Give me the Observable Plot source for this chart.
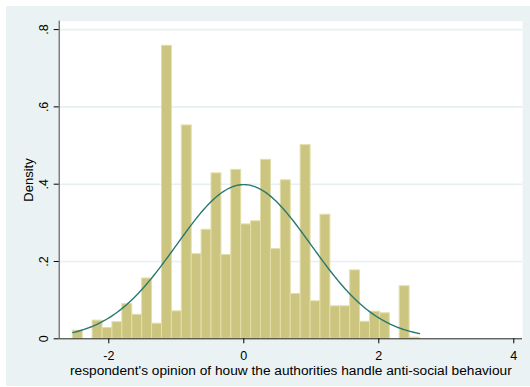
<!DOCTYPE html>
<html>
<head>
<meta charset="utf-8">
<script src="https://cdn.jsdelivr.net/npm/d3@7"></script>
<script src="https://cdn.jsdelivr.net/npm/@observablehq/plot@0.6"></script>
<style>
  html, body { margin: 0; padding: 0; background: #ffffff; }
  #chart { position: absolute; left: 6px; top: 6px; }
  #chart svg { display: block; }
</style>
</head>
<body>
<div id="chart"></div>
<script>
// Histogram of the standardised opinion score (density scale)
const binStart = -2.533;   // left edge of the first bin
const binWidth = 0.14675;  // common bin width
const densities = [
  0.021, 0.000, 0.047, 0.028, 0.043, 0.090, 0.062, 0.156, 0.039, 0.758,
  0.071, 0.552, 0.219, 0.282, 0.428, 0.217, 0.437, 0.296, 0.304, 0.463,
  0.232, 0.410, 0.116, 0.501, 0.097, 0.321, 0.084, 0.084, 0.177, 0.044,
  0.070, 0.066, 0.000, 0.136, 0.003
];

// Overlaid normal density
const normalMean = 0;
const normalSd = 1;

// Axis ticks and labels
const xTicks = [-2, 0, 2, 4];
const xTickLabels = ["-2", "0", "2", "4"];
const yTicks = [0, 0.2, 0.4, 0.6, 0.8];
const yTickLabels = ["0", ".2", ".4", ".6", ".8"];
const gridValues = [0.2, 0.4, 0.6, 0.8];
const xTitle = "respondent's opinion of houw the authorities handle anti-social behaviour";
const yTitle = "Density";

const bins = densities.map((d, i) => ({
  x1: binStart + i * binWidth,
  x2: binStart + (i + 1) * binWidth,
  density: d
}));

const dataMin = binStart;
const dataMax = binStart + densities.length * binWidth;
const normalPdf = x => Math.exp(-0.5 * ((x - normalMean) / normalSd) ** 2) / (normalSd * Math.sqrt(2 * Math.PI));
const curve = d3.range(0, 201).map(i => {
  const x = dataMin + (dataMax - dataMin) * i / 200;
  return {x, y: normalPdf(x)};
});

const xDomain = [-2.735, 4.129];
const yDomain = [0, 0.8217];
const font = "'Liberation Sans', Arial, sans-serif";

const chart = Plot.plot({
  width: 524,
  height: 380,
  marginLeft: 52.7,
  marginRight: 8,
  marginTop: 14.7,
  marginBottom: 47.7,
  style: {background: "#eaf2f3", fontFamily: font, fontSize: "12.5px", color: "#000"},
  x: {domain: xDomain, label: null},
  y: {domain: yDomain, label: null},
  marks: [
    Plot.frame({fill: "#ffffff", stroke: null}),
    Plot.ruleY(gridValues, {stroke: "#e6eff1", strokeWidth: 1.6}),
    Plot.rectY(bins, {
      x1: "x1", x2: "x2", y1: 0, y2: "density",
      fill: "#cbc57f", stroke: "#e2deaa", strokeWidth: 1
    }),
    Plot.line(curve, {x: "x", y: "y", stroke: "#2a7871", strokeWidth: 1.4}),
    Plot.ruleY([yDomain[0]], {stroke: "#222", strokeWidth: 1}),
    Plot.ruleX([xDomain[0]], {stroke: "#444", strokeWidth: 1}),
    Plot.axisX({
      ticks: xTicks,
      tickFormat: d => xTickLabels[xTicks.indexOf(d)],
      tickSize: 5, tickPadding: 7.5, fontSize: 12.5,
      label: null
    }),
    Plot.axisY({
      ticks: yTicks,
      tickFormat: () => "",
      tickSize: 5,
      label: null
    }),
    Plot.text(yTicks, {
      y: d => d,
      text: d => yTickLabels[yTicks.indexOf(d)],
      frameAnchor: "left", dx: -11.5, rotate: -90,
      textAnchor: "middle", lineAnchor: "bottom", fontSize: 12.5, fill: "#000"
    }),
    Plot.text([yTitle], {
      frameAnchor: "left", dx: -30, rotate: -90,
      textAnchor: "middle", lineAnchor: "middle", fontSize: 13, fill: "#000"
    }),
    Plot.text([xTitle], {
      frameAnchor: "bottom", dy: 36,
      textAnchor: "middle", lineAnchor: "bottom", fontSize: 13.7, fill: "#000"
    })
  ]
});

document.getElementById("chart").appendChild(chart);
</script>
</body>
</html>
